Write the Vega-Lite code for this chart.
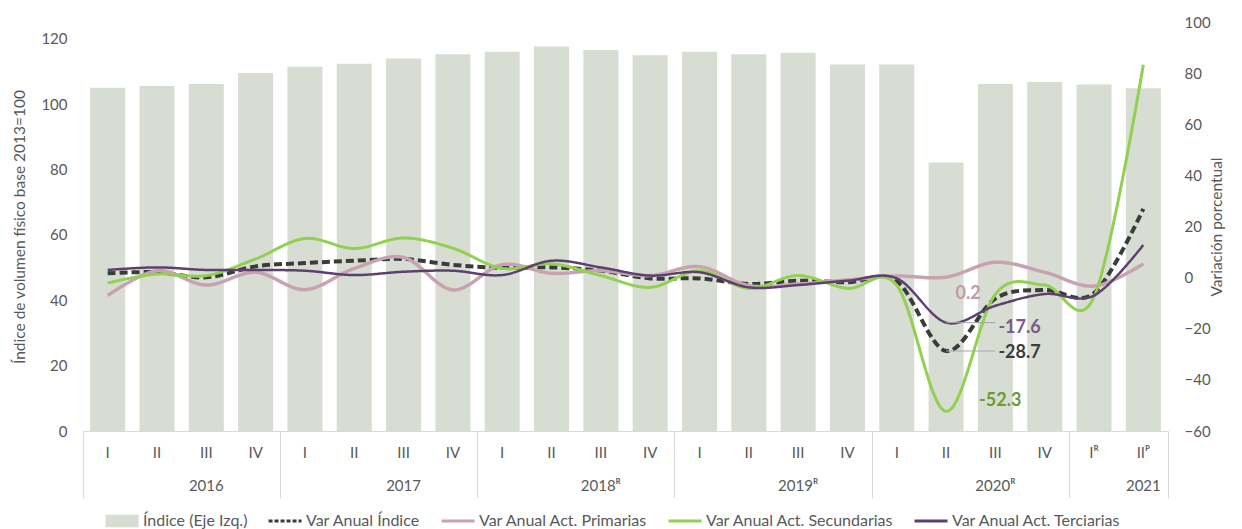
{
  "$schema": "https://vega.github.io/schema/vega-lite/v6.json",
  "width": 1085,
  "height": 409,
  "autosize": {"type": "none"},
  "padding": {"left": 83, "top": 22, "right": 74, "bottom": 98},
  "config": {
    "view": {"stroke": null},
    "font": "Lato",
    "axis": {"labelFont": "Lato", "titleFont": "Lato", "labelColor": "#595959", "titleColor": "#595959", "labelFontSize": 15, "titleFontSize": 15.5, "titleFontWeight": "normal", "grid": false}
  },
  "datasets": {
    "bars": [
      {"q": "2016|I", "indice": 105.1}, {"q": "2016|II", "indice": 105.6}, {"q": "2016|III", "indice": 106.2}, {"q": "2016|IV", "indice": 109.6},
      {"q": "2017|I", "indice": 111.5}, {"q": "2017|II", "indice": 112.4}, {"q": "2017|III", "indice": 114.0}, {"q": "2017|IV", "indice": 115.3},
      {"q": "2018|I", "indice": 116.1}, {"q": "2018|II", "indice": 117.7}, {"q": "2018|III", "indice": 116.6}, {"q": "2018|IV", "indice": 115.0},
      {"q": "2019|I", "indice": 116.1}, {"q": "2019|II", "indice": 115.3}, {"q": "2019|III", "indice": 115.8}, {"q": "2019|IV", "indice": 112.2},
      {"q": "2020|I", "indice": 112.2}, {"q": "2020|II", "indice": 82.2}, {"q": "2020|III", "indice": 106.2}, {"q": "2020|IV", "indice": 106.8},
      {"q": "2021|I", "indice": 106.1}, {"q": "2021|II", "indice": 104.9}
    ],
    "lines": [
      {"q": "2016|I", "serie": "Var Anual Índice", "v": 1.7}, {"q": "2016|II", "serie": "Var Anual Índice", "v": 2.1}, {"q": "2016|III", "serie": "Var Anual Índice", "v": 0.1}, {"q": "2016|IV", "serie": "Var Anual Índice", "v": 4.4},
      {"q": "2017|I", "serie": "Var Anual Índice", "v": 5.7}, {"q": "2017|II", "serie": "Var Anual Índice", "v": 6.6}, {"q": "2017|III", "serie": "Var Anual Índice", "v": 7.3}, {"q": "2017|IV", "serie": "Var Anual Índice", "v": 5.0},
      {"q": "2018|I", "serie": "Var Anual Índice", "v": 3.8}, {"q": "2018|II", "serie": "Var Anual Índice", "v": 4.0}, {"q": "2018|III", "serie": "Var Anual Índice", "v": 2.7}, {"q": "2018|IV", "serie": "Var Anual Índice", "v": -0.3},
      {"q": "2019|I", "serie": "Var Anual Índice", "v": -0.3}, {"q": "2019|II", "serie": "Var Anual Índice", "v": -2.5}, {"q": "2019|III", "serie": "Var Anual Índice", "v": -1.2}, {"q": "2019|IV", "serie": "Var Anual Índice", "v": -1.8},
      {"q": "2020|I", "serie": "Var Anual Índice", "v": -1.4}, {"q": "2020|II", "serie": "Var Anual Índice", "v": -28.7}, {"q": "2020|III", "serie": "Var Anual Índice", "v": -8.2}, {"q": "2020|IV", "serie": "Var Anual Índice", "v": -4.8},
      {"q": "2021|I", "serie": "Var Anual Índice", "v": -6.0}, {"q": "2021|II", "serie": "Var Anual Índice", "v": 26.9},

      {"q": "2016|I", "serie": "Var Anual Act. Primarias", "v": -7.0}, {"q": "2016|II", "serie": "Var Anual Act. Primarias", "v": 2.7}, {"q": "2016|III", "serie": "Var Anual Act. Primarias", "v": -2.9}, {"q": "2016|IV", "serie": "Var Anual Act. Primarias", "v": 2.1},
      {"q": "2017|I", "serie": "Var Anual Act. Primarias", "v": -4.7}, {"q": "2017|II", "serie": "Var Anual Act. Primarias", "v": 3.6}, {"q": "2017|III", "serie": "Var Anual Act. Primarias", "v": 7.9}, {"q": "2017|IV", "serie": "Var Anual Act. Primarias", "v": -4.8},
      {"q": "2018|I", "serie": "Var Anual Act. Primarias", "v": 5.1}, {"q": "2018|II", "serie": "Var Anual Act. Primarias", "v": 1.7}, {"q": "2018|III", "serie": "Var Anual Act. Primarias", "v": 2.7}, {"q": "2018|IV", "serie": "Var Anual Act. Primarias", "v": 0.8},
      {"q": "2019|I", "serie": "Var Anual Act. Primarias", "v": 4.3}, {"q": "2019|II", "serie": "Var Anual Act. Primarias", "v": -3.1}, {"q": "2019|III", "serie": "Var Anual Act. Primarias", "v": -2.5}, {"q": "2019|IV", "serie": "Var Anual Act. Primarias", "v": -0.9},
      {"q": "2020|I", "serie": "Var Anual Act. Primarias", "v": 0.6}, {"q": "2020|II", "serie": "Var Anual Act. Primarias", "v": 0.2}, {"q": "2020|III", "serie": "Var Anual Act. Primarias", "v": 6.0}, {"q": "2020|IV", "serie": "Var Anual Act. Primarias", "v": 2.1},
      {"q": "2021|I", "serie": "Var Anual Act. Primarias", "v": -3.3}, {"q": "2021|II", "serie": "Var Anual Act. Primarias", "v": 5.4},

      {"q": "2016|I", "serie": "Var Anual Act. Secundarias", "v": -2.1}, {"q": "2016|II", "serie": "Var Anual Act. Secundarias", "v": 1.4}, {"q": "2016|III", "serie": "Var Anual Act. Secundarias", "v": 0.8}, {"q": "2016|IV", "serie": "Var Anual Act. Secundarias", "v": 7.3},
      {"q": "2017|I", "serie": "Var Anual Act. Secundarias", "v": 15.3}, {"q": "2017|II", "serie": "Var Anual Act. Secundarias", "v": 11.4}, {"q": "2017|III", "serie": "Var Anual Act. Secundarias", "v": 15.5}, {"q": "2017|IV", "serie": "Var Anual Act. Secundarias", "v": 11.5},
      {"q": "2018|I", "serie": "Var Anual Act. Secundarias", "v": 3.6}, {"q": "2018|II", "serie": "Var Anual Act. Secundarias", "v": 5.4}, {"q": "2018|III", "serie": "Var Anual Act. Secundarias", "v": 0.8}, {"q": "2018|IV", "serie": "Var Anual Act. Secundarias", "v": -3.8},
      {"q": "2019|I", "serie": "Var Anual Act. Secundarias", "v": 2.7}, {"q": "2019|II", "serie": "Var Anual Act. Secundarias", "v": -4.2}, {"q": "2019|III", "serie": "Var Anual Act. Secundarias", "v": 0.8}, {"q": "2019|IV", "serie": "Var Anual Act. Secundarias", "v": -4.2},
      {"q": "2020|I", "serie": "Var Anual Act. Secundarias", "v": -3.0}, {"q": "2020|II", "serie": "Var Anual Act. Secundarias", "v": -52.3}, {"q": "2020|III", "serie": "Var Anual Act. Secundarias", "v": -6.5}, {"q": "2020|IV", "serie": "Var Anual Act. Secundarias", "v": -2.9},
      {"q": "2021|I", "serie": "Var Anual Act. Secundarias", "v": -7.5}, {"q": "2021|II", "serie": "Var Anual Act. Secundarias", "v": 83.3},

      {"q": "2016|I", "serie": "Var Anual Act. Terciarias", "v": 3.0}, {"q": "2016|II", "serie": "Var Anual Act. Terciarias", "v": 4.0}, {"q": "2016|III", "serie": "Var Anual Act. Terciarias", "v": 3.0}, {"q": "2016|IV", "serie": "Var Anual Act. Terciarias", "v": 3.0},
      {"q": "2017|I", "serie": "Var Anual Act. Terciarias", "v": 2.7}, {"q": "2017|II", "serie": "Var Anual Act. Terciarias", "v": 1.0}, {"q": "2017|III", "serie": "Var Anual Act. Terciarias", "v": 2.3}, {"q": "2017|IV", "serie": "Var Anual Act. Terciarias", "v": 2.7},
      {"q": "2018|I", "serie": "Var Anual Act. Terciarias", "v": 1.0}, {"q": "2018|II", "serie": "Var Anual Act. Terciarias", "v": 6.6}, {"q": "2018|III", "serie": "Var Anual Act. Terciarias", "v": 4.0}, {"q": "2018|IV", "serie": "Var Anual Act. Terciarias", "v": 0.8},
      {"q": "2019|I", "serie": "Var Anual Act. Terciarias", "v": 2.1}, {"q": "2019|II", "serie": "Var Anual Act. Terciarias", "v": -3.8}, {"q": "2019|III", "serie": "Var Anual Act. Terciarias", "v": -2.9}, {"q": "2019|IV", "serie": "Var Anual Act. Terciarias", "v": -1.2},
      {"q": "2020|I", "serie": "Var Anual Act. Terciarias", "v": -0.3}, {"q": "2020|II", "serie": "Var Anual Act. Terciarias", "v": -17.6}, {"q": "2020|III", "serie": "Var Anual Act. Terciarias", "v": -11.0}, {"q": "2020|IV", "serie": "Var Anual Act. Terciarias", "v": -6.4},
      {"q": "2021|I", "serie": "Var Anual Act. Terciarias", "v": -7.0}, {"q": "2021|II", "serie": "Var Anual Act. Terciarias", "v": 12.8}
    ],
    "leaders": [
      {"q": "2020|II", "q2": "2020|III", "v": -17.6},
      {"q": "2020|II", "q2": "2020|III", "v": -28.7}
    ],
    "labels": [
      {"q": "2020|II", "v": 0.2, "t": "0.2", "serie": "P"},
      {"q": "2020|III", "v": -17.6, "t": "-17.6", "serie": "R"},
      {"q": "2020|III", "v": -28.7, "t": "-28.7", "serie": "T"},
      {"q": "2020|II", "v": -52.3, "t": "-52.3", "serie": "S"}
    ]
  },
  "layer": [
    {
      "data": {"name": "bars"},
      "mark": {"type": "bar", "width": {"band": 0.71}},
      "encoding": {
        "x": {
          "field": "q", "type": "nominal",
          "scale": {"domain": ["2016|I","2016|II","2016|III","2016|IV","2017|I","2017|II","2017|III","2017|IV","2018|I","2018|II","2018|III","2018|IV","2019|I","2019|II","2019|III","2019|IV","2020|I","2020|II","2020|III","2020|IV","2021|I","2021|II"], "paddingInner": 0, "paddingOuter": 0},
          "axis": {"orient": "bottom", "title": null, "labelAngle": 0, "ticks": false, "domain": true, "domainColor": "#d9d9d9", "labelPadding": 14, "labelColor": "#595959", "labelExpr": "datum.value == '2021|I' ? 'Iᴿ' : datum.value == '2021|II' ? 'IIᴾ' : split(datum.value, '|')[1]"}
        },
        "y": {
          "field": "indice", "type": "quantitative",
          "scale": {"domain": [0, 125.2], "nice": false, "zero": true},
          "axis": {"title": "Índice de volumen físico base 2013=100", "values": [0, 20, 40, 60, 80, 100, 120], "domain": false, "ticks": false, "labelPadding": 16, "titlePadding": 13,
            "encode": {"title": {"update": {"y": {"value": 227}}}}}
        },
        "color": {
          "datum": "Índice (Eje Izq.)", "type": "nominal",
          "scale": {"domain": ["Índice (Eje Izq.)", "Var Anual Índice", "Var Anual Act. Primarias", "Var Anual Act. Secundarias", "Var Anual Act. Terciarias"], "range": ["#d7ddd3", "#393d39", "#c8a2b0", "#92d050", "#5d4070"]},
          "legend": {
            "title": null, "orient": "none", "legendX": 22, "legendY": 491, "direction": "horizontal",
            "labelFontSize": 16, "labelColor": "#595959", "labelFont": "Lato", "labelLimit": 400, "columnPadding": 14, "labelOffset": 22,
            "symbolSize": 1100, "symbolStrokeWidth": 3, "symbolType": "stroke",
            "encode": {"symbols": {"update": {
              "shape": {"signal": "datum.value === 'Índice (Eje Izq.)' ? 'M-0.45,-0.38H1.54V0.38H-0.45Z' : 'M-0.45,0H1.54'"},
              "fill": {"signal": "datum.value === 'Índice (Eje Izq.)' ? '#d7ddd3' : 'transparent'"},
              "stroke": {"signal": "datum.value === 'Índice (Eje Izq.)' ? '#d7ddd3' : scale('color', datum.value)"},
              "strokeWidth": {"signal": "datum.value === 'Índice (Eje Izq.)' ? 0 : 3"},
              "strokeDash": {"signal": "datum.value === 'Var Anual Índice' ? [4, 2] : [1, 0]"},
              "size": {"value": 1100}
            }}}
          }
        }
      }
    },
    {
      "layer": [
        {
          "data": {"name": "lines"},
          "mark": {"type": "line", "interpolate": "cardinal", "tension": 0},
          "encoding": {
            "x": {
              "field": "q", "type": "nominal",
              "axis": {"orient": "bottom", "title": null, "labelAngle": 0, "domain": false, "ticks": true, "bandPosition": 0, "tickSize": 67, "tickWidth": 1,
                "tickColor": {"condition": {"test": "split(datum.value, '|')[1] == 'I'", "value": "#d9d9d9"}, "value": "rgba(0,0,0,0)"},
                "labelPadding": -20, "labelOverlap": false, "labelColor": "#595959",
                "labelExpr": "datum.value == '2016|III' ? '2016' : datum.value == '2017|III' ? '2017' : datum.value == '2018|III' ? '2018ᴿ' : datum.value == '2019|III' ? '2019ᴿ' : datum.value == '2020|III' ? '2020ᴿ' : datum.value == '2021|II' ? '2021' : ''"}
            },
            "y": {
              "field": "v", "type": "quantitative",
              "scale": {"domain": [-60, 100], "nice": false, "zero": false},
              "axis": {"orient": "right", "title": "Variación porcentual", "values": [-60, -40, -20, 0, 20, 40, 60, 80, 100], "domain": false, "ticks": false, "labelPadding": 16, "titlePadding": 14, "titleAngle": 270,
                "encode": {"title": {"update": {"y": {"value": 210}}}}}
            },
            "color": {
              "field": "serie", "type": "nominal",
              "legend": {
                "title": null, "orient": "none", "legendX": 22, "legendY": 491, "direction": "horizontal",
                "labelFontSize": 16, "labelColor": "#595959", "labelFont": "Lato", "labelLimit": 400, "columnPadding": 14, "labelOffset": 22,
                "symbolSize": 1100, "symbolStrokeWidth": 3, "symbolType": "stroke",
                "encode": {"symbols": {"update": {
                  "shape": {"signal": "datum.value === 'Índice (Eje Izq.)' ? 'M-0.45,-0.38H1.54V0.38H-0.45Z' : 'M-0.45,0H1.54'"},
                  "fill": {"signal": "datum.value === 'Índice (Eje Izq.)' ? '#d7ddd3' : 'transparent'"},
                  "stroke": {"signal": "datum.value === 'Índice (Eje Izq.)' ? '#d7ddd3' : scale('color', datum.value)"},
                  "strokeWidth": {"signal": "datum.value === 'Índice (Eje Izq.)' ? 0 : 3"},
                  "strokeDash": {"signal": "datum.value === 'Var Anual Índice' ? [4, 2] : [1, 0]"},
                  "size": {"value": 1100}
                }}}
              }
            },
            "strokeDash": {"field": "serie", "type": "nominal", "scale": {"domain": ["Var Anual Índice", "Var Anual Act. Primarias", "Var Anual Act. Secundarias", "Var Anual Act. Terciarias"], "range": [[8, 4], [1, 0], [1, 0], [1, 0]]}, "legend": null},
            "strokeWidth": {"field": "serie", "type": "nominal", "scale": {"domain": ["Var Anual Índice", "Var Anual Act. Primarias", "Var Anual Act. Secundarias", "Var Anual Act. Terciarias"], "range": [4, 2.5, 2.5, 2.5]}, "legend": null}
          }
        },
        {
          "data": {"name": "leaders"},
          "mark": {"type": "rule", "color": "#a6a6a6", "strokeWidth": 1},
          "encoding": {
            "x": {
              "field": "q", "type": "nominal",
              "axis": {"orient": "bottom", "title": null, "labels": false, "domain": false, "ticks": true, "bandPosition": 1, "tickSize": 67, "tickWidth": 1,
                "tickColor": {"condition": {"test": "datum.value == '2021|II'", "value": "#d9d9d9"}, "value": "rgba(0,0,0,0)"}}
            },
            "x2": {"field": "q2"},
            "y": {"field": "v", "type": "quantitative"},
            "y2": {"field": "v"}
          }
        },
        {
          "data": {"name": "labels"},
          "transform": [{"filter": "datum.serie == 'P'"}],
          "mark": {"type": "text", "fontSize": 18, "fontWeight": "bold", "color": "#c49aa9", "align": "center", "baseline": "middle", "dx": 22, "dy": 17},
          "encoding": {"x": {"field": "q", "type": "nominal", "axis": null}, "y": {"field": "v", "type": "quantitative"}, "text": {"field": "t"}}
        },
        {
          "data": {"name": "labels"},
          "transform": [{"filter": "datum.serie == 'R'"}],
          "mark": {"type": "text", "fontSize": 18, "fontWeight": "bold", "color": "#7b5a8c", "align": "left", "baseline": "middle", "dx": 3, "dy": 5},
          "encoding": {"x": {"field": "q", "type": "nominal", "axis": null}, "y": {"field": "v", "type": "quantitative"}, "text": {"field": "t"}}
        },
        {
          "data": {"name": "labels"},
          "transform": [{"filter": "datum.serie == 'T'"}],
          "mark": {"type": "text", "fontSize": 18, "fontWeight": "bold", "color": "#3a3e3a", "align": "left", "baseline": "middle", "dx": 3, "dy": 2},
          "encoding": {"x": {"field": "q", "type": "nominal", "axis": null}, "y": {"field": "v", "type": "quantitative"}, "text": {"field": "t"}}
        },
        {
          "data": {"name": "labels"},
          "transform": [{"filter": "datum.serie == 'S'"}],
          "mark": {"type": "text", "fontSize": 18, "fontWeight": "bold", "color": "#6b9b36", "align": "left", "baseline": "middle", "dx": 33, "dy": -10},
          "encoding": {"x": {"field": "q", "type": "nominal", "axis": null}, "y": {"field": "v", "type": "quantitative"}, "text": {"field": "t"}}
        }
      ],
      "resolve": {"axis": {"x": "independent"}}
    }
  ],
  "resolve": {"scale": {"y": "independent"}, "axis": {"x": "independent"}}
}
